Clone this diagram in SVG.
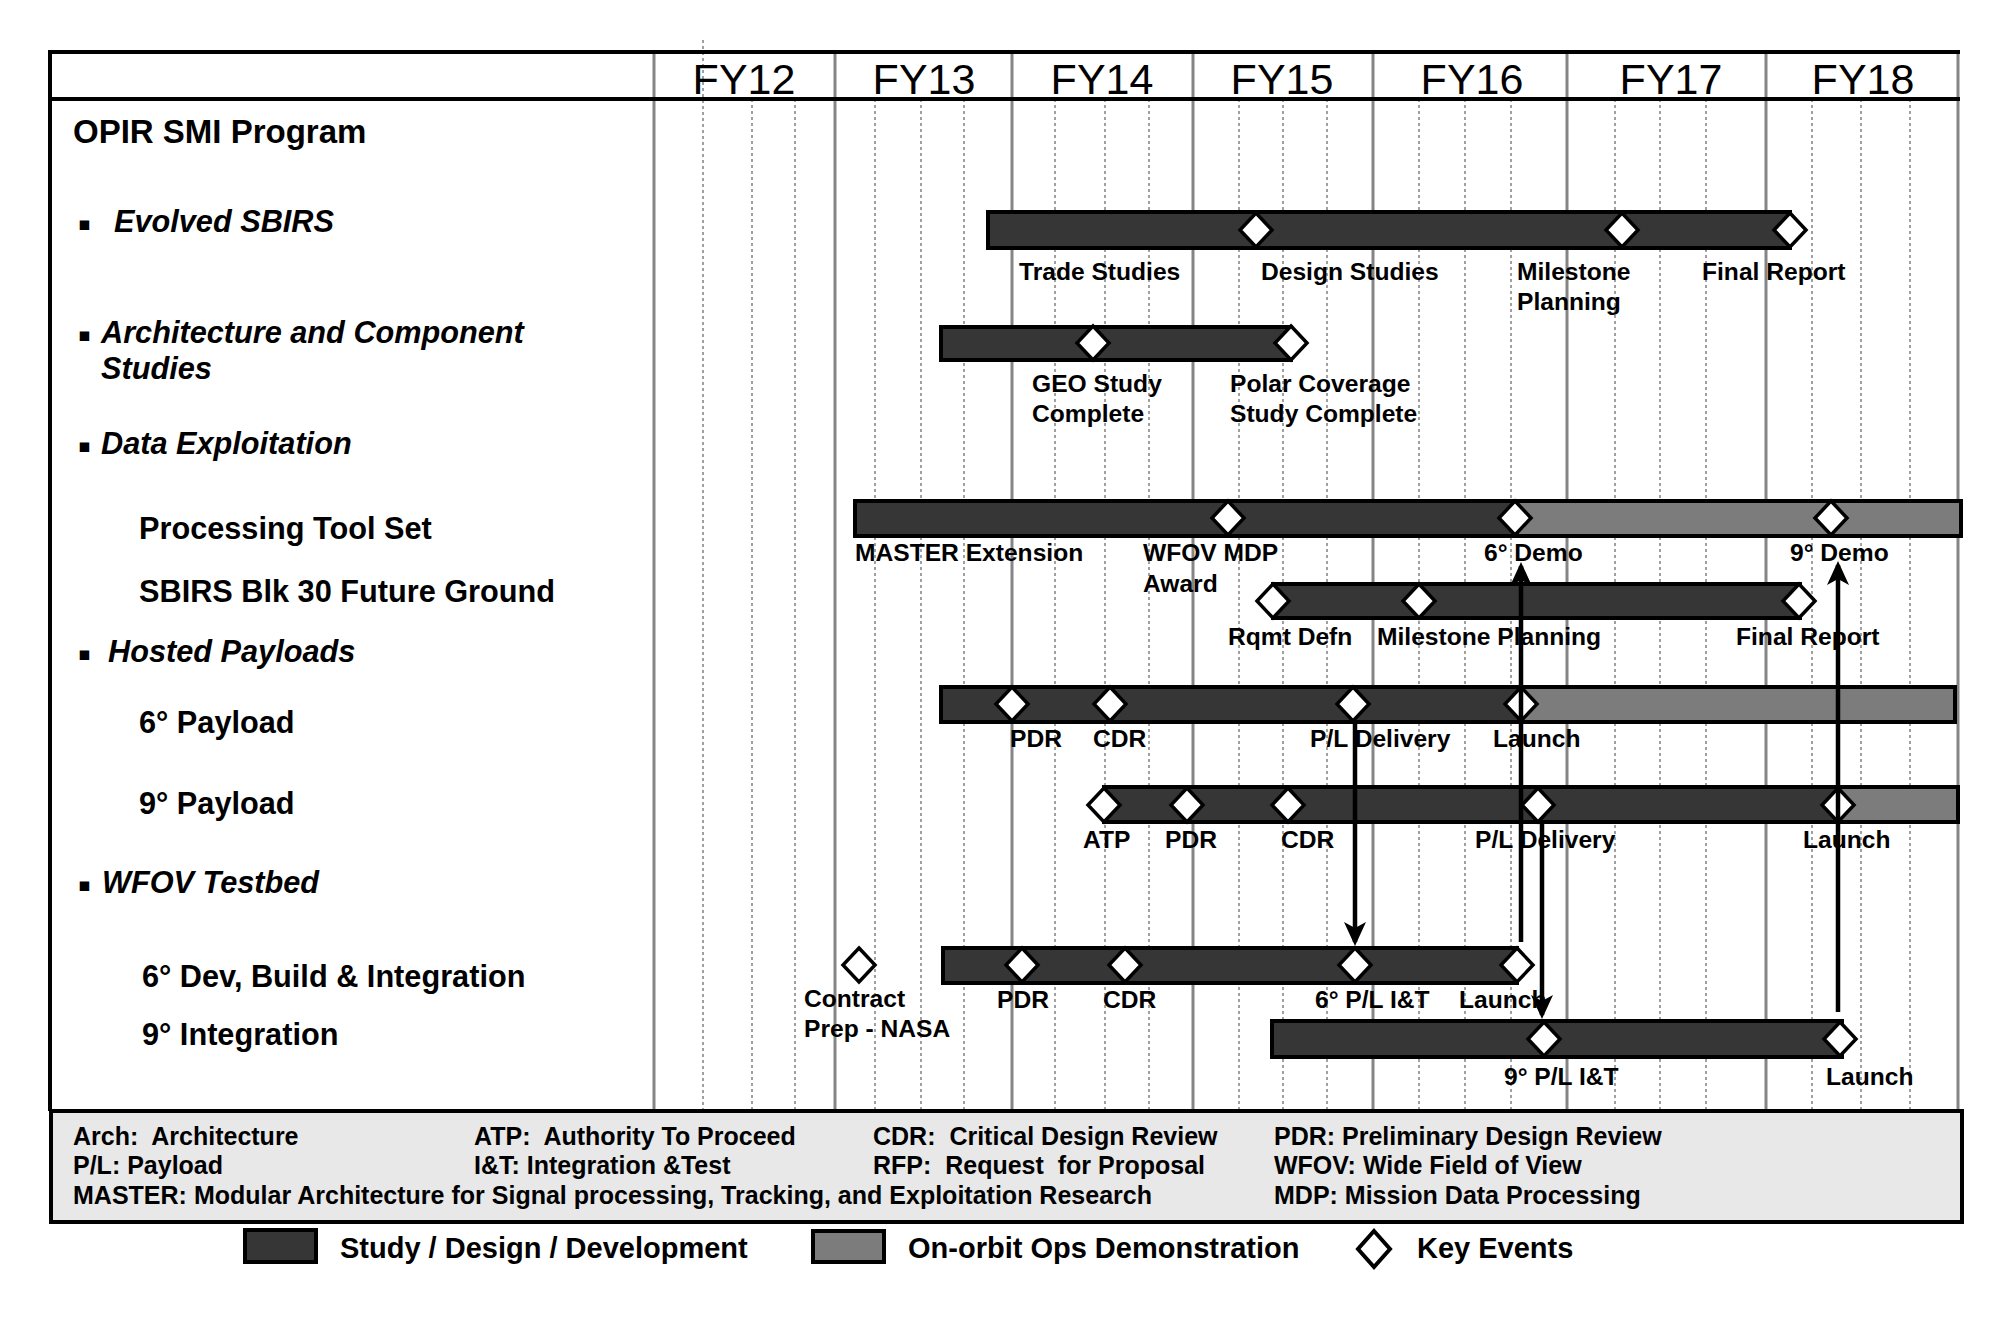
<svg xmlns="http://www.w3.org/2000/svg" width="2007" height="1323" viewBox="0 0 2007 1323">
<defs>
<style>
.grid{stroke:#a0a0a0;stroke-width:2;stroke-dasharray:3 3;fill:none}
.div{stroke:#858585;stroke-width:3;fill:none}
.frame{stroke:#000;stroke-width:4;fill:none}
.fy{font-family:"Liberation Sans",Arial,sans-serif;font-size:43px;fill:#000;text-anchor:middle}
.lp{font-family:"Liberation Sans",Arial,sans-serif;font-size:30.7px;font-weight:bold;fill:#000}
.it{font-style:italic}
.bul{font-family:"DejaVu Sans",sans-serif;font-size:19px;fill:#000}
.lb{font-family:"Liberation Sans",Arial,sans-serif;font-size:24.6px;font-weight:bold;fill:#000}
.lg{font-family:"Liberation Sans",Arial,sans-serif;font-size:25px;font-weight:bold;fill:#000;white-space:pre}
.key{font-family:"Liberation Sans",Arial,sans-serif;font-size:29px;font-weight:bold;fill:#000}
.bar{fill:#363636;stroke:#000;stroke-width:4}
.ops{fill:#7c7c7c;stroke:#000;stroke-width:4}
.dia{fill:#fff;stroke:#000;stroke-width:3.5}
.arr{stroke:#000;stroke-width:4.5;fill:none}
</style>
<path id="d" d="M0,-17 L16,0 L0,17 L-16,0 Z"/>
<marker id="ah" markerUnits="userSpaceOnUse" markerWidth="24" markerHeight="22" refX="20" refY="11" orient="auto" viewBox="0 0 24 22">
<path d="M0,0 L24,11 L0,22 L6,11 Z" fill="#000"/>
</marker>
</defs>
<rect width="2007" height="1323" fill="#fff"/>

<g id="grid">
<line class="grid" x1="703" y1="40" x2="703" y2="1111"/>
<line class="grid" x1="752" y1="99" x2="752" y2="1111"/>
<line class="grid" x1="795" y1="99" x2="795" y2="1111"/>
<line class="grid" x1="875" y1="99" x2="875" y2="1111"/>
<line class="grid" x1="921" y1="99" x2="921" y2="1111"/>
<line class="grid" x1="964" y1="99" x2="964" y2="1111"/>
<line class="grid" x1="1055" y1="99" x2="1055" y2="1111"/>
<line class="grid" x1="1105" y1="99" x2="1105" y2="1111"/>
<line class="grid" x1="1149" y1="99" x2="1149" y2="1111"/>
<line class="grid" x1="1239" y1="99" x2="1239" y2="1111"/>
<line class="grid" x1="1283" y1="99" x2="1283" y2="1111"/>
<line class="grid" x1="1327" y1="99" x2="1327" y2="1111"/>
<line class="grid" x1="1419" y1="99" x2="1419" y2="1111"/>
<line class="grid" x1="1465" y1="99" x2="1465" y2="1111"/>
<line class="grid" x1="1511" y1="99" x2="1511" y2="1111"/>
<line class="grid" x1="1615" y1="99" x2="1615" y2="1111"/>
<line class="grid" x1="1660" y1="99" x2="1660" y2="1111"/>
<line class="grid" x1="1706" y1="99" x2="1706" y2="1111"/>
<line class="grid" x1="1812" y1="99" x2="1812" y2="1111"/>
<line class="grid" x1="1861" y1="99" x2="1861" y2="1111"/>
<line class="grid" x1="1910" y1="99" x2="1910" y2="1111"/>
<line class="div" x1="654" y1="52" x2="654" y2="1111"/>
<line class="div" x1="835" y1="52" x2="835" y2="1111"/>
<line class="div" x1="1012" y1="52" x2="1012" y2="1111"/>
<line class="div" x1="1193" y1="52" x2="1193" y2="1111"/>
<line class="div" x1="1373" y1="52" x2="1373" y2="1111"/>
<line class="div" x1="1567" y1="52" x2="1567" y2="1111"/>
<line class="div" x1="1766" y1="52" x2="1766" y2="1111"/>
<line class="div" x1="1958" y1="52" x2="1958" y2="1111"/>
<line class="frame" x1="50" y1="52" x2="1960" y2="52"/>
<line class="frame" x1="50" y1="99" x2="1960" y2="99"/>
<line class="frame" x1="50" y1="50" x2="50" y2="1111"/>
</g>

<g id="years">
<text class="fy" x="744" y="94">FY12</text>
<text class="fy" x="924" y="94">FY13</text>
<text class="fy" x="1102" y="94">FY14</text>
<text class="fy" x="1282" y="94">FY15</text>
<text class="fy" x="1472" y="94">FY16</text>
<text class="fy" x="1671" y="94">FY17</text>
<text class="fy" x="1863" y="94">FY18</text>
</g>

<g id="rows">
<text class="lp" x="73" y="143" style="font-size:33px">OPIR SMI Program</text>
<text class="bul" x="78" y="230">▪</text>
<text class="lp it" x="114" y="232">Evolved SBIRS</text>
<text class="bul" x="78" y="341">▪</text>
<text class="lp it" x="101" y="343">Architecture and Component</text>
<text class="lp it" x="101" y="379">Studies</text>
<text class="bul" x="78" y="452">▪</text>
<text class="lp it" x="101" y="454">Data Exploitation</text>
<text class="lp" x="139" y="539">Processing Tool Set</text>
<text class="lp" x="139" y="602">SBIRS Blk 30 Future Ground</text>
<text class="bul" x="78" y="660">▪</text>
<text class="lp it" x="108" y="662">Hosted Payloads</text>
<text class="lp" x="139" y="733">6° Payload</text>
<text class="lp" x="139" y="814">9° Payload</text>
<text class="bul" x="78" y="891">▪</text>
<text class="lp it" x="102" y="893">WFOV Testbed</text>
<text class="lp" x="142" y="987">6° Dev, Build &amp; Integration</text>
<text class="lp" x="142" y="1045">9° Integration</text>
</g>

<g id="evolved">
<rect class="bar" x="988" y="212" width="802" height="36"/>
<use href="#d" class="dia" x="1256" y="230"/>
<use href="#d" class="dia" x="1622" y="230"/>
<use href="#d" class="dia" x="1790" y="230"/>
<text class="lb" x="1019" y="280">Trade Studies</text>
<text class="lb" x="1261" y="280">Design Studies</text>
<text class="lb" x="1517" y="280">Milestone</text>
<text class="lb" x="1517" y="310">Planning</text>
<text class="lb" x="1702" y="280">Final Report</text>
</g>

<g id="arch">
<rect class="bar" x="941" y="327" width="350" height="33"/>
<use href="#d" class="dia" x="1093" y="343"/>
<use href="#d" class="dia" x="1291" y="343"/>
<text class="lb" x="1032" y="392">GEO Study</text>
<text class="lb" x="1032" y="422">Complete</text>
<text class="lb" x="1230" y="392">Polar Coverage</text>
<text class="lb" x="1230" y="422">Study Complete</text>
</g>

<g id="processing">
<rect class="ops" x="1517" y="501" width="444" height="35"/>
<rect class="bar" x="855" y="501" width="662" height="35"/>
<use href="#d" class="dia" x="1228" y="518"/>
<use href="#d" class="dia" x="1515" y="518"/>
<use href="#d" class="dia" x="1831" y="518"/>
<text class="lb" x="855" y="561">MASTER Extension</text>
<text class="lb" x="1143" y="561">WFOV MDP</text>
<text class="lb" x="1143" y="592">Award</text>
<text class="lb" x="1484" y="561">6° Demo</text>
<text class="lb" x="1790" y="561">9° Demo</text>
</g>

<g id="blk30">
<rect class="bar" x="1273" y="584" width="527" height="34"/>
<use href="#d" class="dia" x="1273" y="601"/>
<use href="#d" class="dia" x="1419" y="601"/>
<use href="#d" class="dia" x="1799" y="601"/>
<text class="lb" x="1228" y="645">Rqmt Defn</text>
<text class="lb" x="1377" y="645">Milestone Planning</text>
<text class="lb" x="1736" y="645">Final Report</text>
</g>

<g id="payload6">
<rect class="ops" x="1521" y="687" width="434" height="35"/>
<rect class="bar" x="941" y="687" width="580" height="35"/>
<use href="#d" class="dia" x="1012" y="704"/>
<use href="#d" class="dia" x="1110" y="704"/>
<use href="#d" class="dia" x="1353" y="704"/>
<use href="#d" class="dia" x="1521" y="704"/>
<text class="lb" x="1010" y="747">PDR</text>
<text class="lb" x="1093" y="747">CDR</text>
<text class="lb" x="1310" y="747">P/L Delivery</text>
<text class="lb" x="1493" y="747">Launch</text>
</g>

<g id="payload9">
<rect class="ops" x="1838" y="787" width="120" height="35"/>
<rect class="bar" x="1104" y="787" width="734" height="35"/>
<use href="#d" class="dia" x="1104" y="805"/>
<use href="#d" class="dia" x="1187" y="805"/>
<use href="#d" class="dia" x="1288" y="805"/>
<use href="#d" class="dia" x="1538" y="805"/>
<use href="#d" class="dia" x="1838" y="805"/>
<text class="lb" x="1083" y="848">ATP</text>
<text class="lb" x="1165" y="848">PDR</text>
<text class="lb" x="1281" y="848">CDR</text>
<text class="lb" x="1475" y="848">P/L Delivery</text>
<text class="lb" x="1803" y="848">Launch</text>
</g>

<g id="dev6">
<use href="#d" class="dia" x="859" y="965"/>
<text class="lb" x="804" y="1007">Contract</text>
<text class="lb" x="804" y="1037">Prep - NASA</text>
<rect class="bar" x="943" y="948" width="574" height="35"/>
<use href="#d" class="dia" x="1022" y="965"/>
<use href="#d" class="dia" x="1125" y="965"/>
<use href="#d" class="dia" x="1355" y="965"/>
<use href="#d" class="dia" x="1517" y="965"/>
<text class="lb" x="997" y="1008">PDR</text>
<text class="lb" x="1103" y="1008">CDR</text>
<text class="lb" x="1315" y="1008">6° P/L I&amp;T</text>
<text class="lb" x="1459" y="1008">Launch</text>
</g>

<g id="int9">
<rect class="bar" x="1272" y="1021" width="570" height="36"/>
<use href="#d" class="dia" x="1544" y="1039"/>
<use href="#d" class="dia" x="1840" y="1039"/>
<text class="lb" x="1504" y="1085">9° P/L I&amp;T</text>
<text class="lb" x="1826" y="1085">Launch</text>
</g>

<g id="connectors">
<line class="arr" x1="1355" y1="722" x2="1355" y2="942" marker-end="url(#ah)"/>
<line class="arr" x1="1521" y1="942" x2="1521" y2="566" marker-end="url(#ah)"/>
<line class="arr" x1="1542" y1="823" x2="1542" y2="1015" marker-end="url(#ah)"/>
<line class="arr" x1="1838" y1="1012" x2="1838" y2="565" marker-end="url(#ah)"/>
</g>

<g id="abbrev">
<rect x="51" y="1111" width="1911" height="111" fill="#e8e8e8" stroke="#000" stroke-width="4"/>
<text class="lg" x="73" y="1145">Arch:  Architecture</text>
<text class="lg" x="474" y="1145">ATP:  Authority To Proceed</text>
<text class="lg" x="873" y="1145">CDR:  Critical Design Review</text>
<text class="lg" x="1274" y="1145">PDR: Preliminary Design Review</text>
<text class="lg" x="73" y="1174">P/L: Payload</text>
<text class="lg" x="474" y="1174">I&amp;T: Integration &amp;Test</text>
<text class="lg" x="873" y="1174">RFP:  Request  for Proposal</text>
<text class="lg" x="1274" y="1174">WFOV: Wide Field of View</text>
<text class="lg" x="73" y="1204" textLength="1079" lengthAdjust="spacingAndGlyphs">MASTER: Modular Architecture for Signal processing, Tracking, and Exploitation Research</text>
<text class="lg" x="1274" y="1204">MDP: Mission Data Processing</text>
</g>

<g id="legend">
<rect class="bar" x="245" y="1230" width="71" height="32"/>
<text class="key" x="340" y="1258">Study / Design / Development</text>
<rect class="ops" x="813" y="1231" width="71" height="31"/>
<text class="key" x="908" y="1258">On-orbit Ops Demonstration</text>
<path d="M1374,1231 L1390,1249 L1374,1267 L1358,1249 Z" fill="#fff" stroke="#000" stroke-width="4"/>
<text class="key" x="1417" y="1258">Key Events</text>
</g>
</svg>
